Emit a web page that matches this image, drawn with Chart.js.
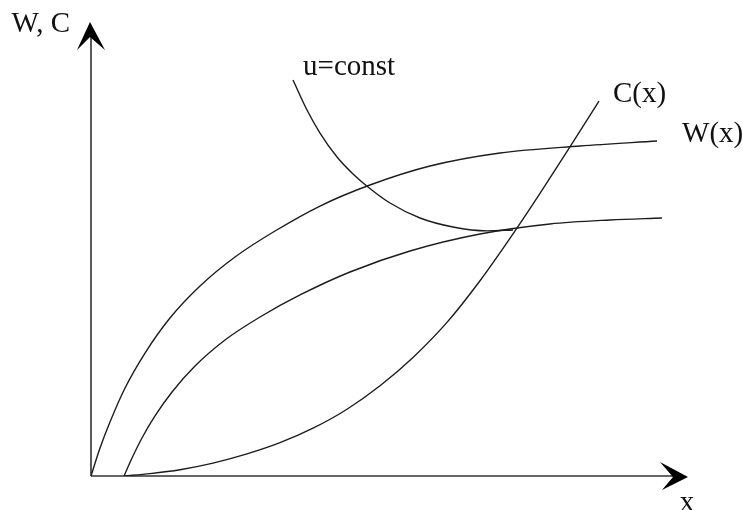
<!DOCTYPE html>
<html>
<head>
<meta charset="utf-8">
<script src="https://cdn.jsdelivr.net/npm/chart.js@4"></script>
<style>
  html, body { margin: 0; padding: 0; background: #ffffff; }
  canvas { display: block; }
</style>
</head>
<body>
<canvas id="c" width="743" height="510"></canvas>
<script>
// ---- data (abstract units: x 0..10, y 0..10) ----
const wX = [0.000, 0.151, 0.318, 0.570, 0.905, 1.323, 1.826, 2.412, 3.082, 3.836, 4.673, 5.678, 6.851, 8.191, 9.481];
const wY = [0.000, 0.617, 1.189, 1.938, 2.709, 3.480, 4.185, 4.824, 5.396, 5.947, 6.410, 6.828, 7.115, 7.269, 7.379];

const w2X = [0.553, 0.687, 0.854, 1.072, 1.357, 1.742, 2.245, 2.831, 3.501, 4.338, 5.343, 6.516, 7.688, 8.693, 9.564];
const w2Y = [0.000, 0.396, 0.837, 1.322, 1.850, 2.423, 2.996, 3.502, 3.987, 4.493, 4.956, 5.330, 5.551, 5.639, 5.683];

const cX = [0.553, 0.988, 1.491, 2.044, 2.613, 3.166, 3.719, 4.288, 4.841, 5.394, 5.963, 6.516, 7.069, 7.521, 8.023, 8.509];
const cY = [0.000, 0.053, 0.139, 0.284, 0.487, 0.734, 1.053, 1.471, 1.987, 2.612, 3.383, 4.300, 5.333, 6.225, 7.249, 8.258];

const uX = [3.384, 3.618, 3.836, 4.121, 4.389, 4.640, 5.008, 5.511, 6.064, 6.633, 7.069];
const uY = [8.722, 8.062, 7.555, 7.026, 6.652, 6.366, 6.013, 5.683, 5.485, 5.400, 5.420];

const axisMax = [10, 10];
const curveLabels = ["W(x)", "C(x)", "u=const"];
const axisLabels = ["W, C", "x"];

// ---- helpers ----
function pts(xs, ys) { return xs.map((x, i) => ({ x: x, y: ys[i] })); }
const lineColor = '#1c1c1c';
function ds(xs, ys) {
  return {
    data: pts(xs, ys),
    showLine: true,
    borderColor: lineColor,
    borderWidth: 1.4,
    pointRadius: 0,
    fill: false,
    cubicInterpolationMode: 'monotone'
  };
}

const FONT = '29px "Liberation Serif", "Times New Roman", serif';

const decor = {
  id: 'decor',
  beforeDatasetsDraw(chart) {
    const ctx = chart.ctx;
    const xs = chart.scales.x, ys = chart.scales.y;
    const x0 = xs.getPixelForValue(0), y0 = ys.getPixelForValue(0);
    const yTop = ys.getPixelForValue(axisMax[1]);
    const xRight = xs.getPixelForValue(axisMax[0]);
    ctx.save();
    ctx.strokeStyle = '#333';
    ctx.lineWidth = 1.6;
    ctx.beginPath();
    ctx.moveTo(x0, y0); ctx.lineTo(x0, yTop + 15);
    ctx.moveTo(x0, y0); ctx.lineTo(xRight - 15, y0);
    ctx.stroke();
    // arrowheads
    ctx.fillStyle = '#000';
    ctx.beginPath();
    ctx.moveTo(x0 - 1, yTop);
    ctx.lineTo(x0 - 14, yTop + 28);
    ctx.lineTo(x0 - 1, yTop + 15);
    ctx.lineTo(x0 + 14, yTop + 28);
    ctx.closePath();
    ctx.fill();
    ctx.beginPath();
    ctx.moveTo(xRight, y0 + 1);
    ctx.lineTo(xRight - 28, y0 - 14);
    ctx.lineTo(xRight - 15, y0 + 1);
    ctx.lineTo(xRight - 26, y0 + 14);
    ctx.closePath();
    ctx.fill();
    ctx.restore();
  },
  afterDatasetsDraw(chart) {
    const ctx = chart.ctx;
    const xs = chart.scales.x, ys = chart.scales.y;
    const px = (x) => xs.getPixelForValue(x);
    const py = (y) => ys.getPixelForValue(y);
    ctx.save();
    ctx.fillStyle = '#111';
    ctx.font = FONT;
    ctx.textBaseline = 'alphabetic';
    // curve labels anchored to curve ends
    ctx.textAlign = 'left';
    ctx.fillText(curveLabels[0], px(wX[wX.length - 1]) + 25, py(wY[wY.length - 1]) + 1);
    ctx.fillText(curveLabels[1], px(cX[cX.length - 1]) + 14, py(cY[cY.length - 1]) + 1);
    ctx.fillText(curveLabels[2], px(uX[0]) + 10, py(uY[0]) - 5);
    // axis labels
    ctx.textAlign = 'right';
    ctx.fillText(axisLabels[0], px(0) - 21, py(axisMax[1]) + 10);
    ctx.textAlign = 'center';
    ctx.fillText(axisLabels[1], px(axisMax[0]) - 1, py(0) + 35);
    ctx.restore();
  }
};

new Chart(document.getElementById('c'), {
  type: 'scatter',
  data: {
    datasets: [ds(wX, wY), ds(w2X, w2Y), ds(cX, cY), ds(uX, uY)]
  },
  options: {
    responsive: false,
    animation: false,
    layout: { padding: { left: 91, right: 55, top: 22, bottom: 34 } },
    plugins: { legend: { display: false }, tooltip: { enabled: false } },
    scales: {
      x: { type: 'linear', min: 0, max: axisMax[0], display: false },
      y: { type: 'linear', min: 0, max: axisMax[1], display: false }
    }
  },
  plugins: [decor]
});
</script>
</body>
</html>
